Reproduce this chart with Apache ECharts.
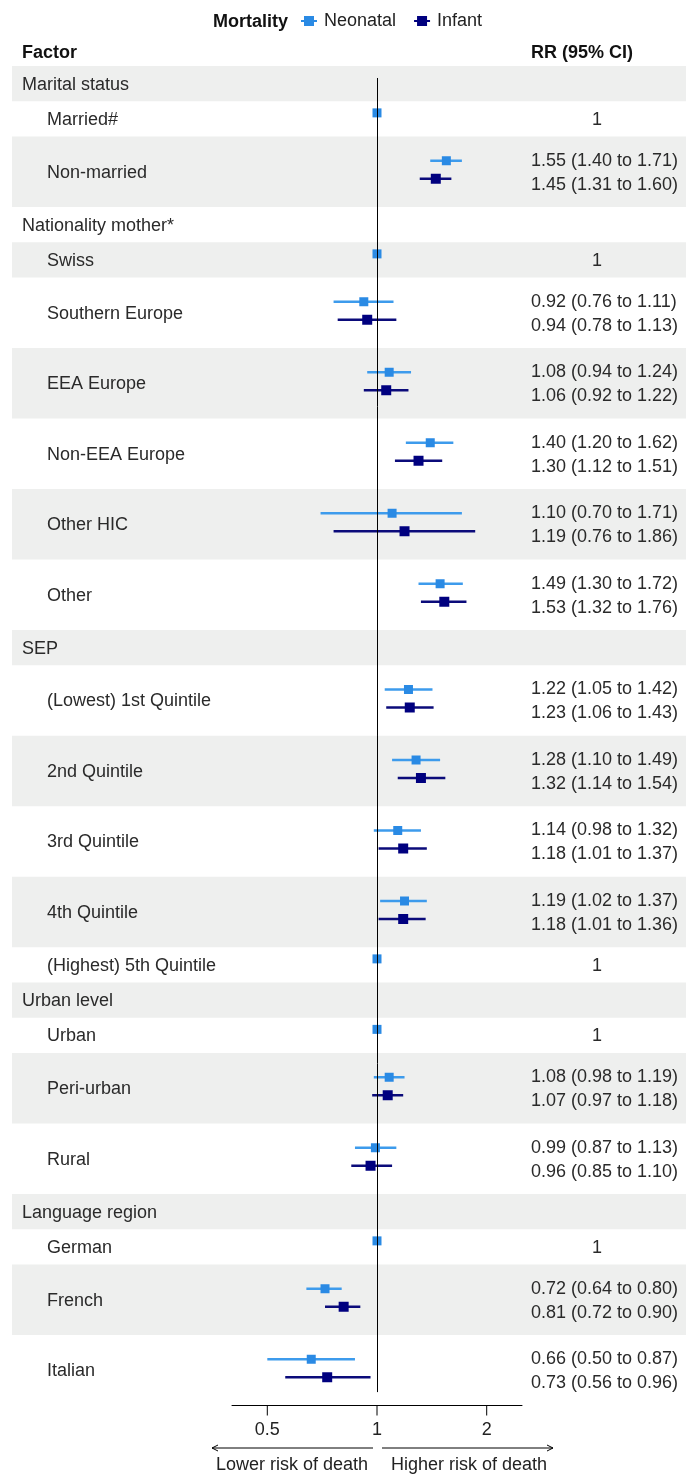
<!DOCTYPE html>
<html><head><meta charset="utf-8">
<script src="https://cdn.jsdelivr.net/npm/echarts@6/dist/echarts.min.js"></script>
<style>html,body{margin:0;padding:0;background:#fff}#c{width:686px;height:1475px}</style>
</head><body><div id="c"></div>
<script>
// ---------------- data ----------------
const factors = ['Marital status','Married#','Non-married','Nationality mother*','Swiss','Southern Europe','EEA Europe','Non-EEA Europe','Other HIC','Other','SEP','(Lowest) 1st Quintile','2nd Quintile','3rd Quintile','4th Quintile','(Highest) 5th Quintile','Urban level','Urban','Peri-urban','Rural','Language region','German','French','Italian'];
const rowTypes = ['group','ref','pair','group','ref','pair','pair','pair','pair','pair','group','pair','pair','pair','pair','ref','group','ref','pair','pair','group','ref','pair','pair'];
const neoRR = [null,1,1.55,null,1,0.92,1.08,1.40,1.10,1.49,null,1.22,1.28,1.14,1.19,1,null,1,1.08,0.99,null,1,0.72,0.66];
const neoLo = [null,1,1.40,null,1,0.76,0.94,1.20,0.70,1.30,null,1.05,1.10,0.98,1.02,1,null,1,0.98,0.87,null,1,0.64,0.50];
const neoHi = [null,1,1.71,null,1,1.11,1.24,1.62,1.71,1.72,null,1.42,1.49,1.32,1.37,1,null,1,1.19,1.13,null,1,0.80,0.87];
const infRR = [null,null,1.45,null,null,0.94,1.06,1.30,1.19,1.53,null,1.23,1.32,1.18,1.18,null,null,null,1.07,0.96,null,null,0.81,0.73];
const infLo = [null,null,1.31,null,null,0.78,0.92,1.12,0.76,1.32,null,1.06,1.14,1.01,1.01,null,null,null,0.97,0.85,null,null,0.72,0.56];
const infHi = [null,null,1.60,null,null,1.13,1.22,1.51,1.86,1.76,null,1.43,1.54,1.37,1.36,null,null,null,1.18,1.10,null,null,0.90,0.96];
const tickValues = [0.5, 1, 2];
const seriesNames = ['Neonatal','Infant'];

// ---------------- layout helpers ----------------
const FONT = '"Liberation Sans", Arial, sans-serif';
const UNIT_PX = 35.25;
const TOP = 66;
const rows = [];
let acc = 0;
factors.forEach((f, i) => {
  const span = rowTypes[i] === 'pair' ? 2 : 1;
  rows.push({ top: acc, span: span });
  acc += span;
});
const totalUnits = acc;
const fmt = v => v.toFixed(2);

const bandData = rows.map((r, i) => [1, r.top, r.span, i]);

function ciData(rr, lo, hi, which) {
  const out = [];
  rows.forEach((r, i) => {
    if (rr[i] == null) return;
    const c = r.top + r.span / 2;
    let off;
    if (rowTypes[i] === 'ref') off = -6 / UNIT_PX;
    else off = which === 0 ? -11 / UNIT_PX : 7 / UNIT_PX;
    out.push([lo[i], hi[i], rr[i], c + off]);
  });
  return out;
}

const styles = [
  { line: '#3d9bec', box: '#2a8ae4', size: 9 },
  { line: '#0b0b7a', box: '#00007f', size: 10 }
];

function errRender(k) {
  return function (params, api) {
    const y = api.value(3);
    const pl = api.coord([api.value(0), y]);
    const ph = api.coord([api.value(1), y]);
    const p = api.coord([api.value(2), y]);
    const st = styles[k];
    const ch = [];
    if (ph[0] - pl[0] > 0.5) {
      ch.push({ type: 'line', shape: { x1: pl[0], y1: pl[1], x2: ph[0], y2: ph[1] }, style: { stroke: st.line, lineWidth: 2.5 } });
    }
    ch.push({ type: 'rect', shape: { x: p[0] - st.size / 2, y: p[1] - st.size / 2, width: st.size, height: st.size }, style: { fill: st.box } });
    return { type: 'group', children: ch };
  };
}

const chart = echarts.init(document.getElementById('c'), null, { renderer: 'canvas' });
const option = {
  animation: false,
  backgroundColor: '#ffffff',
  grid: { left: 232, right: 164, top: TOP, height: totalUnits * UNIT_PX },
  legend: {
    data: seriesNames,
    left: 301, top: 12,
    itemWidth: 16, itemHeight: 12, itemGap: 18, padding: 0,
    icon: 'path://M0,4H3V0H13V4H16V6H13V10H3V6H0Z',
    textStyle: { fontSize: 18, color: '#222', fontFamily: FONT, padding: [0, 0, 0, 2] }
  },
  xAxis: {
    type: 'log', logBase: 2, min: 0.4, max: 2.5, position: 'bottom',
    axisLine: { onZero: false, lineStyle: { color: '#000', width: 1 } },
    axisTick: { show: false },
    splitLine: { show: false },
    axisLabel: {
      fontSize: 18, color: '#222', fontFamily: FONT, margin: 16,
      formatter: v => {
        const m = tickValues.find(t => Math.abs(t - v) < 1e-6);
        return m === undefined ? '' : String(m);
      }
    }
  },
  yAxis: { type: 'value', min: 0, max: totalUnits, inverse: true, show: false },
  graphic: [
    { type: 'text', style: { text: 'Mortality', x: 213, y: 22, fontSize: 18, fontWeight: 'bold', fontFamily: FONT, fill: '#111', verticalAlign: 'middle' } },
    { type: 'text', style: { text: 'Factor', x: 22, y: 53, fontSize: 18, fontWeight: 'bold', fontFamily: FONT, fill: '#111', verticalAlign: 'middle' } },
    { type: 'text', style: { text: 'RR (95% CI)', x: 531, y: 53, fontSize: 18, fontWeight: 'bold', fontFamily: FONT, fill: '#111', verticalAlign: 'middle' } },
    { type: 'polyline', shape: { points: [[373, 1448], [212, 1448]] }, style: { stroke: '#000', lineWidth: 1 } },
    { type: 'polyline', shape: { points: [[218, 1445], [212, 1448], [218, 1451]] }, style: { stroke: '#000', lineWidth: 1, fill: null } },
    { type: 'polyline', shape: { points: [[382, 1448], [553, 1448]] }, style: { stroke: '#000', lineWidth: 1 } },
    { type: 'polyline', shape: { points: [[547, 1445], [553, 1448], [547, 1451]] }, style: { stroke: '#000', lineWidth: 1, fill: null } },
    { type: 'text', style: { text: 'Lower risk of death', x: 292, y: 1465, align: 'center', verticalAlign: 'middle', fontSize: 18, fontFamily: FONT, fill: '#222' } },
    { type: 'text', style: { text: 'Higher risk of death', x: 469, y: 1465, align: 'center', verticalAlign: 'middle', fontSize: 18, fontFamily: FONT, fill: '#222' } }
  ],
  series: [
    {
      type: 'custom', name: 'rows', z: 0, silent: true, clip: false,
      encode: { x: 0, y: 1 },
      data: bandData,
      renderItem: function (params, api) {
        const i = api.value(3), top = api.value(1), span = api.value(2);
        const y0 = api.coord([1, top])[1];
        const y1 = api.coord([1, top + span])[1];
        const cy = (y0 + y1) / 2;
        const ch = [];
        if (i % 2 === 0) ch.push({ type: 'rect', shape: { x: 12, y: y0, width: 674, height: y1 - y0 }, style: { fill: '#eeefee' } });
        const t = rowTypes[i];
        ch.push({ type: 'text', style: { text: factors[i], x: t === 'group' ? 22 : 47, y: cy + 1, verticalAlign: 'middle', fontSize: 18, fontFamily: FONT, fill: '#2a2a2a' } });
        if (t === 'ref') {
          ch.push({ type: 'text', style: { text: '1', x: 597, y: cy + 1, align: 'center', verticalAlign: 'middle', fontSize: 18, fontFamily: FONT, fill: '#2a2a2a' } });
        } else if (t === 'pair') {
          ch.push({ type: 'text', style: { text: fmt(neoRR[i]) + ' (' + fmt(neoLo[i]) + ' to ' + fmt(neoHi[i]) + ')', x: 531, y: cy - 11, verticalAlign: 'middle', fontSize: 18, fontFamily: FONT, fill: '#2a2a2a' } });
          ch.push({ type: 'text', style: { text: fmt(infRR[i]) + ' (' + fmt(infLo[i]) + ' to ' + fmt(infHi[i]) + ')', x: 531, y: cy + 13, verticalAlign: 'middle', fontSize: 18, fontFamily: FONT, fill: '#2a2a2a' } });
        }
        return { type: 'group', children: ch };
      }
    },
    {
      type: 'custom', name: 'ticks', z: 3, silent: true, clip: false,
      encode: { x: 0, y: 1 },
      data: tickValues.map(v => [v, totalUnits]),
      renderItem: function (params, api) {
        const p = api.coord([api.value(0), api.value(1)]);
        return { type: 'line', shape: { x1: p[0], y1: p[1], x2: p[0], y2: p[1] + 10 }, style: { stroke: '#000', lineWidth: 1 } };
      }
    },
    {
      type: 'custom', name: seriesNames[0], z: 4, clip: false,
      itemStyle: { color: styles[0].box },
      encode: { x: [0, 1, 2], y: 3 },
      data: ciData(neoRR, neoLo, neoHi, 0),
      renderItem: errRender(0),
      markLine: {
        silent: true, symbol: ['none', 'none'], label: { show: false },
        lineStyle: { color: '#000', width: 1, type: 'solid' },
        data: [[{ coord: [1, 0.34] }, { coord: [1, 37.62] }]]
      }
    },
    {
      type: 'custom', name: seriesNames[1], z: 4, clip: false,
      itemStyle: { color: styles[1].box },
      encode: { x: [0, 1, 2], y: 3 },
      data: ciData(infRR, infLo, infHi, 1),
      renderItem: errRender(1)
    }
  ]
};
chart.setOption(option);
</script>
</body></html>
